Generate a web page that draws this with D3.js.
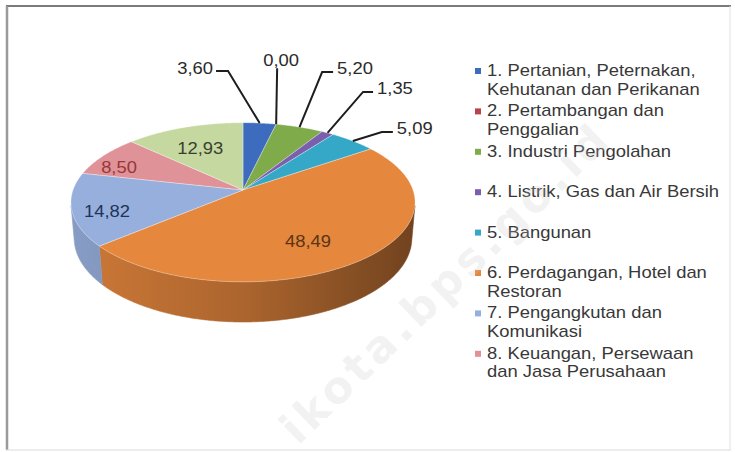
<!DOCTYPE html>
<html><head><meta charset="utf-8">
<script src="https://cdn.jsdelivr.net/npm/d3@7"></script>
<style>html,body{margin:0;padding:0;background:#fff;} svg{display:block;}</style>
</head><body>
<svg id="c" width="735" height="452"></svg>
<script>
// ---- data ----
const categories = [
  "1. Pertanian, Peternakan, Kehutanan dan Perikanan",
  "2. Pertambangan dan Penggalian",
  "3. Industri Pengolahan",
  "4. Listrik, Gas dan Air Bersih",
  "5. Bangunan",
  "6. Perdagangan, Hotel dan Restoran",
  "7. Pengangkutan dan Komunikasi",
  "8. Keuangan, Persewaan dan Jasa Perusahaan",
  "9. Jasa-jasa"
];
const values = [3.60, 0.00, 5.20, 1.35, 5.09, 48.49, 14.82, 8.50, 12.93];
const legendLines = [
  ["1. Pertanian, Peternakan,", "Kehutanan dan Perikanan"],
  ["2. Pertambangan dan", "Penggalian"],
  ["3. Industri Pengolahan"],
  ["4. Listrik, Gas dan Air Bersih"],
  ["5. Bangunan"],
  ["6. Perdagangan, Hotel dan", "Restoran"],
  ["7. Pengangkutan dan", "Komunikasi"],
  ["8. Keuangan, Persewaan", "dan Jasa Perusahaan"]
];
const watermark = "ikota.bps.go.id";

// ---- styles / layout ----
const sliceColors = ["#3d6cbf","#b8434a","#7fab4a","#7a5fad","#35a8c8","#e5873d","#97afdc","#df9297","#c5d8a0"];
const insideLabelColors = {5:"#5a3414", 6:"#1f3358", 7:"#9a3636", 8:"#3a3f30"};
const insideLayout = {5:{f:0.58, dy:13}, 6:{f:0.8, dy:6}, 7:{f:0.88, dy:8}, 8:{f:0.7, dy:4}};
const outerLayout = {
  0:{ex:-31.6, ey:-52, h:-12, anchor:"end"},
  1:{ex:1, ey:-56, h:0, anchor:"middle"},
  2:{ex:22.6, ey:-55, h:11, anchor:"start"},
  3:{ex:35.5, ey:-41, h:10, anchor:"start"},
  4:{ex:29, ey:-9, h:11, anchor:"start"}
};

const svg = d3.select("#c");
const FONT = "'Liberation Sans', Arial, sans-serif";
const SX = 1.15;

// frame
svg.append("line").attr("x1",6).attr("x2",731).attr("y1",6).attr("y2",6).attr("stroke","#7a7a7a").attr("stroke-width",2);
svg.append("line").attr("x1",7).attr("x2",7).attr("y1",6).attr("y2",450).attr("stroke","#9a9a9a").attr("stroke-width",2.5);
svg.append("line").attr("x1",6).attr("x2",731).attr("y1",450).attr("y2",450).attr("stroke","#dcdcdc").attr("stroke-width",1);
svg.append("line").attr("x1",730).attr("x2",730).attr("y1",6).attr("y2",450).attr("stroke","#e0e0e0").attr("stroke-width",1);

// ---- 3D projection ----
const R = 170, cx = 243, cy = 190, depth = 41, Dcam = 980;
const sinA = 0.457, cosA = Math.sqrt(1 - sinA*sinA);
function project(theta, r, yw) {
  const X = r*Math.sin(theta), Z = r*Math.cos(theta);
  const yc = yw*cosA + Z*sinA;
  const dc = Z*cosA - yw*sinA;
  const k = Dcam/(Dcam + dc);
  return [cx + X*k, cy - yc*k];
}
const pie = d3.pie().sort(null).value(d => d).startAngle(0).endAngle(2*Math.PI);
const arcs = pie(values);
const color = d3.scaleOrdinal().domain(d3.range(values.length)).range(sliceColors);
const line = d3.line();
const step = Math.PI/360;
function rim(a0, a1, yw) {
  const n = Math.max(2, Math.ceil((a1 - a0)/step));
  return d3.range(n+1).map(i => project(a0 + (a1 - a0)*i/n, R, yw));
}

// visible (front-facing) wall range
const camZ = Dcam*cosA;
const thMin = Math.acos(-R/camZ), thMax = 2*Math.PI - thMin;

const defs = svg.append("defs");
const xl = project(Math.PI*1.5, R, 0)[0] - 5, xr = project(Math.PI*0.5, R, 0)[0] + 5;
arcs.forEach((a, i) => {
  const c = d3.color(color(i));
  const g = defs.append("linearGradient").attr("id","wg"+i)
    .attr("gradientUnits","userSpaceOnUse").attr("x1",xl).attr("x2",xr).attr("y1",0).attr("y2",0);
  g.append("stop").attr("offset",0).attr("stop-color", c.darker(0.3));
  g.append("stop").attr("offset",0.5).attr("stop-color", c.darker(0.8));
  g.append("stop").attr("offset",1).attr("stop-color", c.darker(2.0));
});

const gPie = svg.append("g");
// walls
arcs.forEach((a, i) => {
  const s = Math.max(a.startAngle, thMin), e = Math.min(a.endAngle, thMax);
  if (e <= s) return;
  const pts = rim(s, e, 0).concat(rim(s, e, -depth).reverse());
  gPie.append("path").attr("d", line(pts) + "Z").attr("fill", "url(#wg"+i+")")
    .attr("stroke","url(#wg"+i+")").attr("stroke-width",0.6);
});
// top faces
arcs.forEach((a, i) => {
  if (a.endAngle - a.startAngle <= 0) return;
  const pts = [project(0,0,0)].concat(rim(a.startAngle, a.endAngle, 0));
  gPie.append("path").attr("d", line(pts) + "Z").attr("fill", color(i))
    .attr("stroke","#ffffff").attr("stroke-opacity",0.45).attr("stroke-width",0.7);
});

const fmt = v => d3.format(".2f")(v).replace(".", ",");

// inside labels
arcs.forEach((a, i) => {
  const L = insideLayout[i]; if (!L) return;
  const mid = (a.startAngle + a.endAngle)/2;
  const p = project(mid, R*L.f, 0);
  svg.append("text").attr("transform",`translate(${p[0]},${p[1]+L.dy}) scale(${SX},1)`)
    .attr("text-anchor","middle").attr("dominant-baseline","central")
    .attr("font-family",FONT).attr("font-size",16).attr("fill",insideLabelColors[i])
    .text(fmt(values[i]));
});

// outer labels with leader lines
arcs.forEach((a, i) => {
  const L = outerLayout[i]; if (!L) return;
  const mid = (a.startAngle + a.endAngle)/2;
  const p0 = project(mid, R, 0);
  const p1 = [p0[0] + L.ex, p0[1] + L.ey];
  const p2 = [p1[0] + L.h, p1[1]];
  svg.append("path").attr("d", line(L.h ? [p0,p1,p2] : [p0,p1])).attr("fill","none")
    .attr("stroke","#1e1e1e").attr("stroke-width",2);
  let tx, ty;
  if (L.anchor === "middle") { tx = p1[0] + 4; ty = p1[1] - 8; }
  else if (L.anchor === "end") { tx = p2[0] - 3; ty = p2[1] - 3; }
  else { tx = p2[0] + 4; ty = p2[1] - 4; }
  svg.append("text").attr("transform",`translate(${tx},${ty}) scale(${SX},1)`)
    .attr("text-anchor",L.anchor).attr("dominant-baseline","central")
    .attr("font-family",FONT).attr("font-size",16).attr("fill","#2a2a2a")
    .text(fmt(values[i]));
});

// legend
const legX = 475, legY0 = 76, legStep = 40.4, lineH = 18.5;
const gLeg = svg.append("g");
legendLines.forEach((lines, i) => {
  const by = legY0 + i*legStep;
  gLeg.append("rect").attr("x",legX).attr("y",by-8).attr("width",6).attr("height",6).attr("fill",color(i));
  lines.forEach((t, j) => {
    gLeg.append("text").attr("transform",`translate(${legX+12},${by + j*lineH}) scale(${SX},1)`)
      .attr("font-family",FONT).attr("font-size",16).attr("fill","#383838").text(t);
  });
});

// watermark
svg.append("text").attr("transform","translate(298,446) rotate(-44)")
  .attr("font-family","'DejaVu Sans', sans-serif").attr("font-weight","bold")
  .attr("font-size",44).attr("letter-spacing",4.5)
  .attr("fill","#c8c8c8").attr("fill-opacity",0.24).text(watermark);
</script>
</body></html>
